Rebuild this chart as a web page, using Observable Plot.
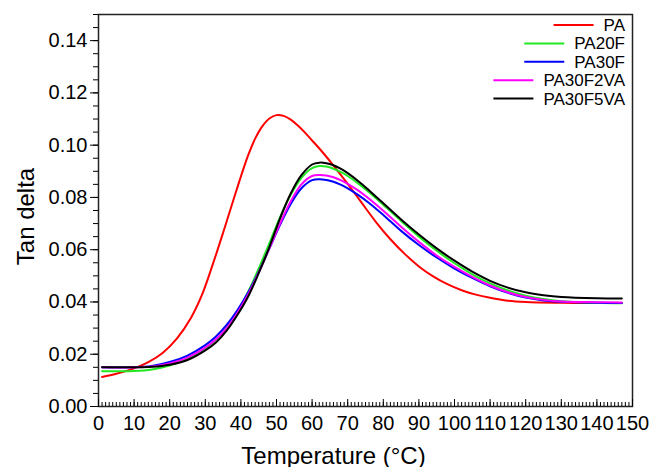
<!DOCTYPE html>
<html><head><meta charset="utf-8">
<script src="https://cdn.jsdelivr.net/npm/d3@7"></script>
<script src="https://cdn.jsdelivr.net/npm/@observablehq/plot@0.6"></script>
<style>
body{margin:0;background:#fff;}
#chart{position:relative;width:650px;height:467px;}
</style>
</head><body><div id="chart"></div>
<script>
const seriesNames = ["PA", "PA20F", "PA30F", "PA30F2VA", "PA30F5VA"];
const seriesColors = ["#ff0000", "#22e822", "#0000ff", "#ff00ff", "#000000"];

const tempPA = [1, 5, 10, 14, 18, 22, 26, 29, 32, 35, 38, 40, 42, 44, 46, 48, 50, 52, 54, 56, 58, 60, 63, 66, 70, 74, 78, 82, 86, 90, 94, 98, 102, 106, 110, 115, 120, 130, 140, 147];
const tanPA = [0.0113, 0.0125, 0.0146, 0.0170, 0.0205, 0.0260, 0.0340, 0.0425, 0.0540, 0.0665, 0.0795, 0.0880, 0.0960, 0.1025, 0.1072, 0.1102, 0.1115, 0.1112, 0.1098, 0.1075, 0.1048, 0.1018, 0.0972, 0.0922, 0.0852, 0.0778, 0.0705, 0.0640, 0.0584, 0.0536, 0.0498, 0.0468, 0.0445, 0.0428, 0.0416, 0.0405, 0.0400, 0.0397, 0.0396, 0.0396];

const tempPA20F = [1, 5, 10, 15, 20, 25, 30, 33, 36, 39, 42, 45, 48, 51, 54, 57, 60, 62, 64, 66, 68, 70, 73, 76, 80, 85, 90, 95, 100, 105, 110, 115, 120, 125, 130, 140, 147];
const tanPA20F = [0.0135, 0.0135, 0.0136, 0.0142, 0.0157, 0.0182, 0.0222, 0.0255, 0.0302, 0.0362, 0.0438, 0.0528, 0.0625, 0.0725, 0.0810, 0.0875, 0.0912, 0.0920, 0.0918, 0.0910, 0.0898, 0.0882, 0.0853, 0.0820, 0.0772, 0.0710, 0.0650, 0.0596, 0.0548, 0.0506, 0.0471, 0.0444, 0.0424, 0.0411, 0.0403, 0.0397, 0.0395];

const tempPA30F = [1, 10, 15, 20, 25, 30, 33, 36, 39, 42, 45, 48, 51, 54, 57, 60, 62, 64, 66, 68, 70, 73, 76, 80, 85, 90, 95, 100, 105, 110, 115, 120, 125, 130, 140, 147];
const tanPA30F = [0.0150, 0.0150, 0.0155, 0.0170, 0.0195, 0.0235, 0.0268, 0.0312, 0.0368, 0.0435, 0.0515, 0.0605, 0.0695, 0.0775, 0.0835, 0.0866, 0.0870, 0.0867, 0.0860, 0.0849, 0.0835, 0.0809, 0.0779, 0.0733, 0.0672, 0.0618, 0.0570, 0.0528, 0.0492, 0.0460, 0.0435, 0.0417, 0.0406, 0.0401, 0.0397, 0.0396];

const tempPA30F2VA = [1, 10, 15, 20, 25, 30, 33, 36, 39, 42, 45, 48, 51, 54, 57, 60, 62, 64, 66, 68, 70, 73, 76, 80, 85, 90, 95, 100, 105, 110, 115, 120, 125, 130, 140, 147];
const tanPA30F2VA = [0.0150, 0.0150, 0.0153, 0.0165, 0.0187, 0.0225, 0.0257, 0.0300, 0.0358, 0.0428, 0.0512, 0.0605, 0.0700, 0.0785, 0.0850, 0.0882, 0.0886, 0.0884, 0.0877, 0.0866, 0.0852, 0.0826, 0.0795, 0.0749, 0.0688, 0.0630, 0.0578, 0.0534, 0.0496, 0.0463, 0.0437, 0.0419, 0.0408, 0.0402, 0.0399, 0.0398];

const tempPA30F5VA = [1, 5, 10, 15, 20, 25, 30, 33, 36, 39, 42, 45, 48, 51, 54, 57, 60, 62, 64, 66, 68, 70, 73, 76, 80, 85, 90, 95, 100, 105, 110, 115, 120, 125, 130, 140, 147];
const tanPA30F5VA = [0.0150, 0.0150, 0.0150, 0.0152, 0.0160, 0.0178, 0.0215, 0.0245, 0.0290, 0.0350, 0.0420, 0.0510, 0.0610, 0.0720, 0.0815, 0.0885, 0.0926, 0.0933, 0.0931, 0.0923, 0.0910, 0.0893, 0.0862, 0.0827, 0.0778, 0.0716, 0.0658, 0.0605, 0.0558, 0.0516, 0.0481, 0.0455, 0.0437, 0.0426, 0.0419, 0.0414, 0.0413];

const yTicks = [0, 0.02, 0.04, 0.06, 0.08, 0.10, 0.12, 0.14];
const yMinorTicks = d3.range(0, 0.1501, 0.005);
const xTicks = [0, 10, 20, 30, 40, 50, 60, 70, 80, 90, 100, 110, 120, 130, 140, 150];
const xMinorTicks = d3.range(0, 151, 1);
const xTitle = "Temperature (°C)";
const yTitle = "Tan delta";

const temps = [tempPA, tempPA20F, tempPA30F, tempPA30F2VA, tempPA30F5VA];
const tans = [tanPA, tanPA20F, tanPA30F, tanPA30F2VA, tanPA30F5VA];
const rows = seriesNames.flatMap((s, i) => temps[i].map((t, j) => ({series: s, T: t, v: tans[i][j]})));

const font = "'Liberation Sans', Arial, sans-serif";
const plot = Plot.plot({
  width: 650, height: 467,
  marginLeft: 98, marginRight: 18, marginTop: 14, marginBottom: 61,
  style: {fontFamily: font, color: "#000", background: "#fff"},
  x: {domain: [0, 150]},
  y: {domain: [0, 0.15]},
  color: {domain: seriesNames, range: seriesColors},
  marks: [
    Plot.line(rows, {x: "T", y: "v", z: "series", stroke: "series", strokeWidth: 2, curve: "catmull-rom"}),
    Plot.frame({stroke: "#222", strokeWidth: 1.5}),
    Plot.axisY(yMinorTicks, {tickSize: 5, tickFormat: () => "", label: null}),
    Plot.axisY(yTicks, {tickSize: 8, tickPadding: 3, tickFormat: d3.format(".2f"), fontSize: 20, label: null}),
    Plot.axisX(xMinorTicks, {tickSize: -4, tickFormat: () => "", label: null}),
    Plot.axisX(xTicks, {tickSize: -7, tickFormat: () => "", label: null}),
    Plot.axisX(xTicks, {tickSize: 0, tickPadding: 9, fontSize: 20, label: null}),
    Plot.text([xTitle], {frameAnchor: "bottom", textAnchor: "middle", lineAnchor: "bottom", dx: -32, dy: 57, fontSize: 24}),
    Plot.text([yTitle], {frameAnchor: "left", textAnchor: "middle", rotate: -90, dx: -72, dy: 6, fontSize: 24})
  ]
});
document.getElementById("chart").appendChild(plot);

// legend inside the plot, top-right
const svg = d3.select(plot);
const lg = svg.append("g").attr("font-family", font).attr("font-size", 17);
seriesNames.forEach((name, i) => {
  const y = 25 + i * 18.4;
  const t = lg.append("text").attr("x", 625).attr("y", y).attr("dy", "0.35em")
    .attr("text-anchor", "end").attr("fill", "#000").text(name);
  const w = t.node().getComputedTextLength();
  lg.append("line").attr("x1", 625 - w - 50).attr("x2", 625 - w - 10)
    .attr("y1", y).attr("y2", y).attr("stroke", seriesColors[i]).attr("stroke-width", 2);
});
</script>
</body></html>
